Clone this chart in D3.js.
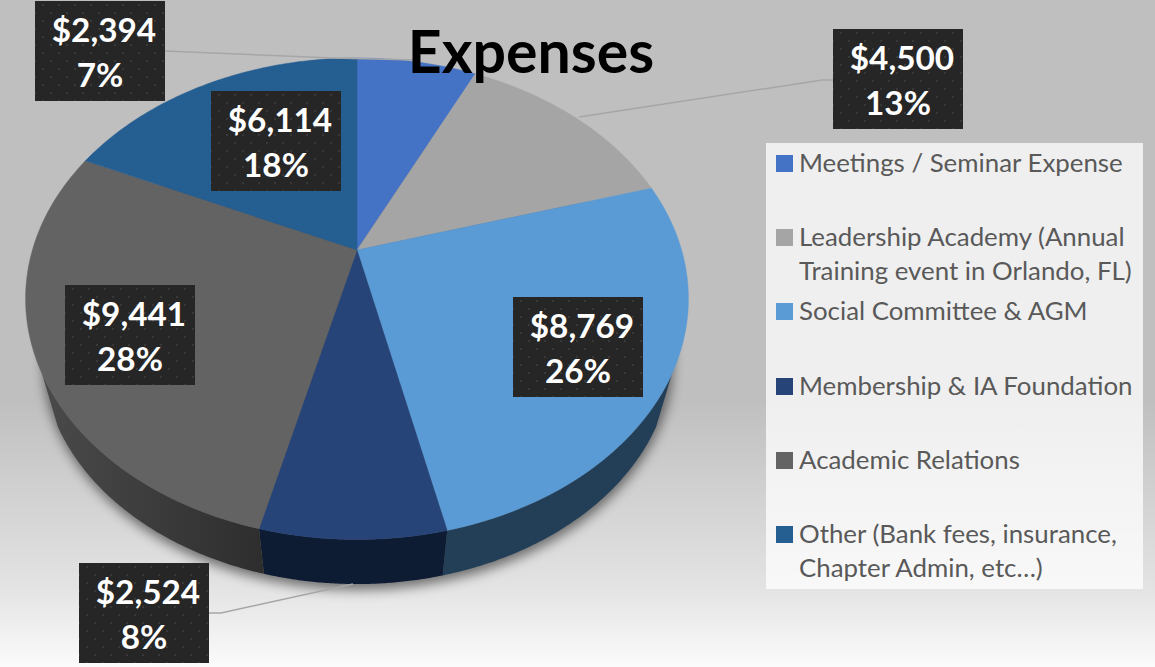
<!DOCTYPE html>
<html><head><meta charset="utf-8">
<script src="https://cdn.jsdelivr.net/npm/d3@7"></script>
<style>html,body{margin:0;padding:0;background:#fff;overflow:hidden}svg{display:block}</style>
</head><body><svg id="c" width="1155" height="667"></svg>
<script>
const categories=["Meetings / Seminar Expense","Leadership Academy (Annual Training event in Orlando, FL)","Social Committee & AGM","Membership & IA Foundation","Academic Relations","Other (Bank fees, insurance, Chapter Admin, etc…)"];
const values=[2394,4500,8769,2524,9441,6114];
const percents=["7%","13%","26%","8%","28%","18%"];
const colors=["#4472c4","#a5a5a5","#5b9bd5","#264478","#636363","#255e91"];
const sideStart=["#2a4476","#666666","#233f58","#0d1b33","#4a4a4a","#163856"];
const sideEnd=["#2a4476","#666666","#233f58","#0d1b33","#2e2e2e","#163856"];
const legendLines=[["Meetings / Seminar Expense"],["Leadership Academy (Annual","Training event in Orlando, FL)"],["Social Committee & AGM"],["Membership & IA Foundation"],["Academic Relations"],["Other (Bank fees, insurance,","Chapter Admin, etc…)"]];

const svg=d3.select("#c");
const defs=svg.append("defs");
const bg=defs.append("linearGradient").attr("id","bg").attr("x1",0).attr("x2",0).attr("y1",0).attr("y2",1);
[[0,"#bfbfbf"],[.6,"#bfbfbf"],[.88,"#e3e3e3"],[1,"#fbfbfb"]].forEach(s=>bg.append("stop").attr("offset",s[0]).attr("stop-color",s[1]));
defs.append("filter").attr("id","blur").attr("x","-10%").attr("y","-10%").attr("width","120%").attr("height","120%").append("feGaussianBlur").attr("stdDeviation",6);
const pat=defs.append("pattern").attr("id","dots").attr("width",16).attr("height",16).attr("patternUnits","userSpaceOnUse");
pat.append("rect").attr("width",16).attr("height",16).attr("fill","#262626");
pat.append("rect").attr("x",7).attr("y",3).attr("width",2).attr("height",2).attr("fill","#383838");
pat.append("rect").attr("x",15).attr("y",11).attr("width",2).attr("height",2).attr("fill","#383838");
pat.append("rect").attr("x",-1).attr("y",11).attr("width",2).attr("height",2).attr("fill","#383838");

svg.append("rect").attr("width",1155).attr("height",667).attr("fill","url(#bg)");

// perspective projection of the pie disc
const cx=357,cy=250,persp=-0.2025,ky=230.9,kx=324.6,shrink=0.95,vanishY=1430;
function topPt(a){const u=Math.sin(a),v=-Math.cos(a),d=1+persp*v;return [cx+kx*u/d,cy+ky*v/d];}
function botPt(a){const p=topPt(a);return [cx+shrink*(p[0]-cx),vanishY+shrink*(p[1]-vanishY)];}
const line=d3.line();
const pie=d3.pie().sort(null)(values);
const arcAngles=(s,e)=>d3.range(0,81).map(i=>s+(e-s)*i/80);
const sideFrom=119*Math.PI/180,sideTo=241*Math.PI/180;

// shadow
const full=arcAngles(0,2*Math.PI);
svg.append("path").attr("d",line(full.map(botPt).map(p=>[p[0]+1,p[1]+6]))+"Z").attr("fill","#000").attr("opacity",.5).attr("filter","url(#blur)");

// sides (only the front of the disc is visible)
pie.forEach((d,i)=>{
  const s=Math.max(d.startAngle,sideFrom),e=Math.min(d.endAngle,sideTo);
  if(e<=s) return;
  const as=arcAngles(s,e);
  const id="side"+i;
  const ps=as.map(topPt),pb=as.map(botPt);
  const g=defs.append("linearGradient").attr("id",id).attr("gradientUnits","userSpaceOnUse")
    .attr("x1",d3.min(ps,p=>p[0])).attr("x2",d3.max(ps,p=>p[0])).attr("y1",0).attr("y2",0);
  g.append("stop").attr("offset",0).attr("stop-color",sideStart[i]);
  g.append("stop").attr("offset",1).attr("stop-color",sideEnd[i]);
  svg.append("path").attr("d",line(ps.concat(pb.slice().reverse()))+"Z").attr("fill",`url(#${id})`);
});
// top faces
pie.forEach((d,i)=>{
  const pts=[[cx,cy]].concat(arcAngles(d.startAngle,d.endAngle).map(topPt));
  svg.append("path").attr("d",line(pts)+"Z").attr("fill",colors[i]).attr("stroke",colors[i]).attr("stroke-width",.4);
});

// leader lines
const leaderStart=[[165,51],[833,80],null,[209,613],null,null];
const leaderMid=[[333,58],[822,80],null,[221,613],null,null];
const leaderEnd=[[417,60],[579,117],null,[353,584],null,null];
leaderStart.forEach((s,i)=>{ if(!s) return;
  svg.append("path").attr("d",line([s,leaderMid[i],leaderEnd[i]])).attr("fill","none").attr("stroke","#a6a6a6").attr("stroke-width",1.5);
});

// title
svg.append("text").attr("x",531).attr("y",73).attr("text-anchor","middle").attr("font-family","Lato").attr("font-weight",700).attr("font-size",59).attr("fill","#000").text("Expenses");

// labels
const labelX=[35,833,513,79,65,211],labelY=[1,29,297,563,285,91];
const money=d3.format("$,");
values.forEach((v,i)=>{
  const g=svg.append("g").attr("transform",`translate(${labelX[i]},${labelY[i]})`);
  g.append("rect").attr("width",130).attr("height",100).attr("fill","url(#dots)");
  g.append("text").attr("x",69).attr("y",41).attr("text-anchor","middle").attr("font-family","Lato").attr("font-weight",700).attr("font-size",33.3).attr("fill","#fff").text(money(v));
  g.append("text").attr("x",65).attr("y",86).attr("text-anchor","middle").attr("font-family","Lato").attr("font-weight",700).attr("font-size",33.3).attr("fill","#fff").text(percents[i]);
});

// legend
svg.append("rect").attr("x",766).attr("y",143).attr("width",377).attr("height",446).attr("fill","#fff").attr("opacity",.75);
const legendY=[163,237,311,386,460,534];
categories.forEach((c,i)=>{
  svg.append("rect").attr("x",776).attr("y",legendY[i]-8).attr("width",17).attr("height",17).attr("fill",colors[i]);
  legendLines[i].forEach((t,j)=>{
    svg.append("text").attr("x",799).attr("y",legendY[i]+9+j*34).attr("font-family","Lato").attr("font-size",25.85).attr("fill","#595959").text(t);
  });
});
</script></body></html>
